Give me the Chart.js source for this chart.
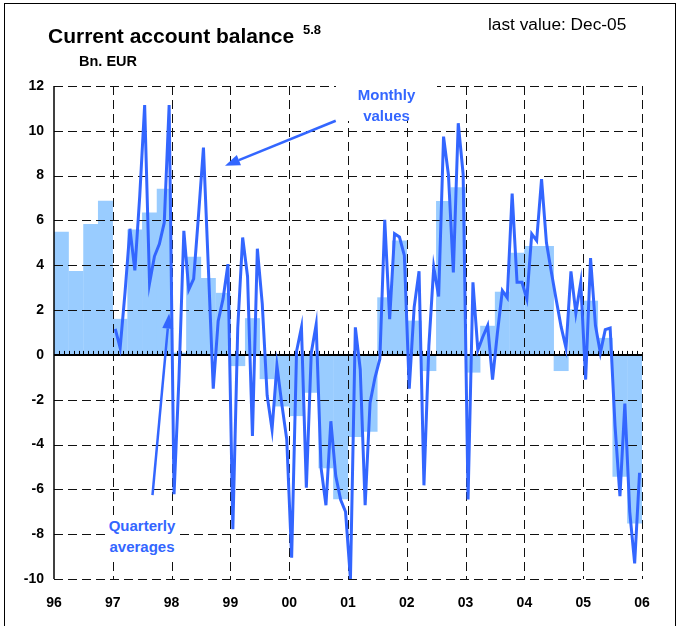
<!DOCTYPE html>
<html>
<head>
<meta charset="utf-8">
<script src="https://cdn.jsdelivr.net/npm/chart.js@4.4.1/dist/chart.umd.min.js"></script>
<style>
  body { margin: 0; background: #fff; font-family: "Liberation Sans", Arial, sans-serif; }
  #wrap { position: relative; width: 687px; height: 626px; overflow: hidden; }
  #frame { position: absolute; left: 4px; top: 3px; width: 670px; height: 660px; border: 1px solid #000; }
  #chart { position: absolute; left: 0; top: 0; }
  .txt { position: absolute; white-space: nowrap; line-height: 1; }
  .note { position: absolute; color: #3366ff; font-weight: bold; font-size: 15px; line-height: 21px; text-align: center; background: #fff; }
</style>
</head>
<body>
<div id="wrap">
  <div id="frame"></div>
  <canvas id="chart" width="687" height="626"></canvas>
  <div class="txt" style="left:48px; top:25px; font-size:21px; font-weight:bold;">Current account balance</div>
  <div class="txt" style="left:303px; top:23px; font-size:13px; font-weight:bold;">5.8</div>
  <div class="txt" style="left:79px; top:54px; font-size:14.5px; font-weight:bold;">Bn. EUR</div>
  <div class="txt" style="left:488px; top:16px; font-size:17.3px;">last value: Dec-05</div>
  <div class="note" style="left:336px; top:84px; width:101px; height:37px;">Monthly<br>values</div>
  <div class="note" style="left:106px; top:515px; width:72px; height:43px;">Quarterly<br>averages</div>
</div>
<script>
// x axis: years 96 .. 06, one tick every 12 months
const yearLabels = ['96', '97', '98', '99', '00', '01', '02', '03', '04', '05', '06'];

// quarterly averages, 1996 Q1 .. 2005 Q4
const quarterlyAvg = [
  5.5, 3.75, 5.84, 6.88,
  1.61, 5.6, 6.35, 7.42,
  0.1, 4.38, 3.43, 2.77,
  -0.5, 1.64, -1.08, -2.3,
  -2.73, -1.69, -5.06, -6.44,
  -3.66, -3.43, 2.57, 5.1,
  1.53, -0.72, 6.87, 7.48,
  -0.79, 1.3, 2.82, 4.56,
  4.86, 4.86, -0.72, 2.04,
  2.42, 0.76, -5.44, -7.52
];

// monthly values, Jan 1997 .. Dec 2005
const monthlyValues = [
  1.16, 0.31, 2.8, 5.63, 3.77, 7.1, 11.15, 3.2, 4.4, 4.95, 5.9, 11.15,
  -6.22, -1.05, 5.54, 2.91, 3.39, 6.25, 9.25, 3.9, -1.51, 1.5, 2.5, 4.05,
  -7.78, 1.2, 5.24, 3.5, -3.62, 4.74, 2.29, -1.81, -3.33, -0.48, -2.21, -3.77,
  -9.05, 0.16, 1.23, -5.93, 0.09, 1.35, -5.03, -6.71, -2.96, -5.4, -6.47, -7.0,
  -10.0, 1.23, -0.65, -6.71, -2.14, -1.02, -0.18, 6.03, 1.6, 5.41, 5.26, 4.44,
  -1.51, 2.12, 3.73, -5.82, 0.39, 3.92, 2.61, 9.74, 8.03, 3.68, 10.34, 8.06,
  -6.45, 3.24, 0.21, 0.8, 1.31, -1.1, 1.0, 2.87, 2.55, 7.2, 3.24, 3.24,
  2.5, 5.4, 5.1, 7.84, 5.0, 3.7, 2.45, 1.25, 0.3, 3.73, 1.87, 3.24,
  -1.1, 4.32, 1.31, 0.09, 1.13, 1.2, -3.18, -6.3, -2.17, -7.0, -9.3, -5.26
];
const monthlyStart = 12; // months after Jan 1996

// annotation arrows, in chart units (months since Jan 96, bn EUR)
const arrows = [
  { from: [57.5, 10.45], to: [34.9, 8.44] },
  { from: [20.1, -6.26], to: [23.5, 1.85] }
];

const blue = '#3366ff';

// dashed grid, axis and zero line drawn between the bars and the monthly line
const gridPlugin = {
  id: 'dashGrid',
  beforeDatasetDraw(chart, args) {
    if (args.meta.type !== 'line') return;
    const { ctx, chartArea: a, scales: { x, y } } = chart;
    ctx.save();
    ctx.strokeStyle = '#111';
    ctx.lineWidth = 1;
    ctx.setLineDash([9, 5]);
    y.ticks.forEach(t => {
      if (t.value === 0) return;
      const py = Math.round(y.getPixelForValue(t.value)) + 0.5;
      ctx.beginPath();
      ctx.moveTo(a.left, py);
      ctx.lineTo(a.right, py);
      ctx.stroke();
    });
    x.ticks.forEach(t => {
      if (t.value === 0) return;
      const px = Math.round(x.getPixelForValue(t.value)) + 0.5;
      ctx.beginPath();
      ctx.moveTo(px, a.top);
      ctx.lineTo(px, a.bottom);
      ctx.stroke();
    });
    ctx.setLineDash([]);

    // left axis
    ctx.strokeStyle = '#000';
    ctx.lineWidth = 1.5;
    ctx.beginPath();
    ctx.moveTo(a.left, a.top);
    ctx.lineTo(a.left, a.bottom);
    ctx.stroke();

    // zero line with a tick for every month
    const y0 = y.getPixelForValue(0);
    ctx.lineWidth = 2;
    ctx.beginPath();
    ctx.moveTo(a.left, y0);
    ctx.lineTo(a.right, y0);
    ctx.stroke();
    ctx.lineWidth = 1;
    for (let m = 1; m < 120; m++) {
      const px = Math.round(x.getPixelForValue(m)) + 0.5;
      ctx.beginPath();
      ctx.moveTo(px, y0);
      ctx.lineTo(px, y0 - 4);
      ctx.stroke();
    }
    ctx.restore();
  },
  afterDatasetsDraw(chart) {
    const { ctx, scales: { x, y } } = chart;
    ctx.save();
    ctx.strokeStyle = blue;
    ctx.fillStyle = blue;
    ctx.lineWidth = 2.5;
    arrows.forEach(ar => {
      const x1 = x.getPixelForValue(ar.from[0]), y1 = y.getPixelForValue(ar.from[1]);
      const x2 = x.getPixelForValue(ar.to[0]), y2 = y.getPixelForValue(ar.to[1]);
      const ang = Math.atan2(y2 - y1, x2 - x1);
      const len = 15, half = 5.5;
      const bx = x2 - len * Math.cos(ang), by = y2 - len * Math.sin(ang);
      ctx.beginPath();
      ctx.moveTo(x1, y1);
      ctx.lineTo(bx, by);
      ctx.stroke();
      ctx.beginPath();
      ctx.moveTo(x2, y2);
      ctx.lineTo(bx + half * Math.sin(ang), by - half * Math.cos(ang));
      ctx.lineTo(bx - half * Math.sin(ang), by + half * Math.cos(ang));
      ctx.closePath();
      ctx.fill();
    });
    ctx.restore();
  }
};

Chart.defaults.font.family = '"Liberation Sans", Arial, sans-serif';

new Chart(document.getElementById('chart'), {
  type: 'bar',
  data: {
    datasets: [
      {
        type: 'line',
        label: 'Monthly values',
        data: monthlyValues.map((v, i) => ({ x: monthlyStart + i + 0.5, y: v })),
        borderColor: blue,
        borderWidth: 3,
        pointRadius: 0,
        tension: 0,
        order: 1
      },
      {
        type: 'bar',
        label: 'Quarterly averages',
        data: quarterlyAvg.map((v, i) => ({ x: i * 3 + 1.5, y: v })),
        backgroundColor: '#99ccff',
        borderWidth: 0,
        barPercentage: 1.02,
        categoryPercentage: 1,
        order: 2
      }
    ]
  },
  options: {
    responsive: false,
    animation: false,
    devicePixelRatio: 1,
    layout: { padding: { top: 86, right: 45, left: 0, bottom: 0 } },
    plugins: { legend: { display: false }, tooltip: { enabled: false } },
    scales: {
      x: {
        type: 'linear',
        min: 0,
        max: 120,
        offset: false,
        grid: { display: false, drawTicks: false, offset: false },
        border: { display: false },
        ticks: {
          stepSize: 12,
          autoSkip: false,
          maxRotation: 0,
          padding: 16,
          color: '#000',
          font: { size: 14, weight: 'bold' },
          callback: v => yearLabels[v / 12]
        },
        afterFit(s) { s.height = 47; }
      },
      y: {
        min: -10,
        max: 12,
        grid: { display: false, drawTicks: false },
        border: { display: false },
        ticks: {
          stepSize: 2,
          padding: 10,
          color: '#000',
          font: { size: 14, weight: 'bold' }
        },
        afterFit(s) { s.width = 54; }
      }
    }
  },
  plugins: [gridPlugin]
});
</script>
</body>
</html>
